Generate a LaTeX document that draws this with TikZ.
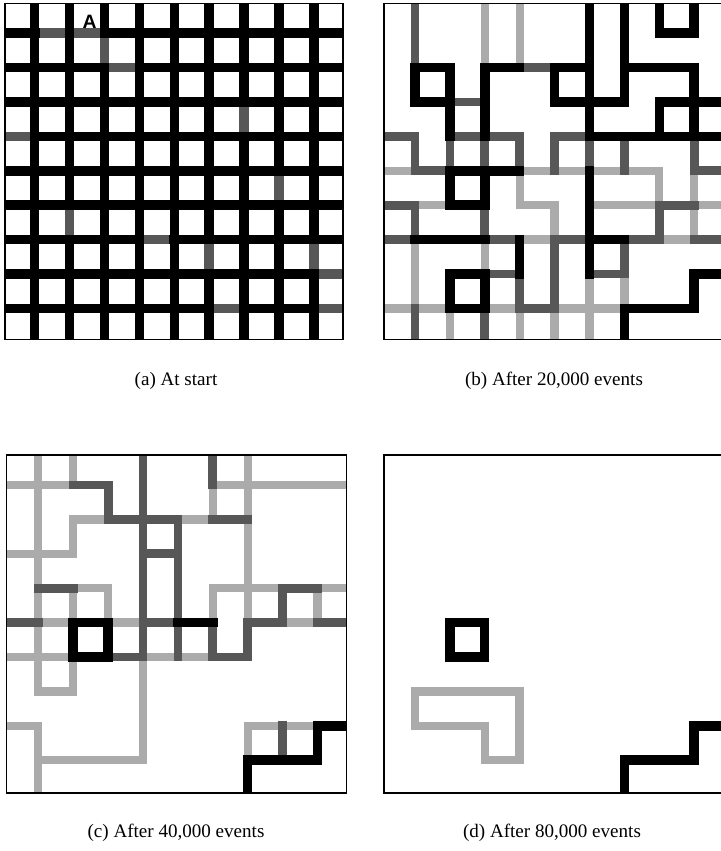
\documentclass[tikz,border=0pt]{standalone}
\usepackage{fontspec}
\setmainfont{Liberation Serif}
\newfontfamily\labelsans{Liberation Sans}
\newcommand\HB[2]{\foreach \j/\k in {#2} {\draw[#1] (\k,\j) -- ++(1,0);}}
\newcommand\VB[2]{\foreach \k/\j in {#2} {\draw[#1] (\k,\j) -- ++(0,1);}}
\begin{document}
\begin{tikzpicture}[x=0.75pt,y=-0.75pt]
\tikzset{
  blk/.style={line width=7.1pt, line cap=rect, black},
  drk/.style={line width=6.6pt, line cap=rect, black!66},
  lgt/.style={line width=6.2pt, line cap=rect, black!33},
  frame/.style={draw=black, line width=0.9pt},
  lattice/.style={x=26.175pt, y=-25.8pt},
  caption/.style={font=\fontsize{14.3}{17}\selectfont, inner sep=0pt}
}
\useasboundingbox (0,0) rectangle (721,851);
\clip (0,0) rectangle (721,851);

% ---------------- (a) At start ----------------
\begin{scope}
  \clip (5,3.5) rectangle (343,339.5);
  \begin{scope}[shift={(-0.2,-1.2)}, lattice]
    \foreach \i in {1,...,9} {
      \draw[blk, line cap=butt] (\i,-1) -- (\i,11);
      \draw[blk, line cap=butt] (-1,\i) -- (11,\i);
    }
    \foreach \j/\k in {1/1,1/2,2/3,4/0,7/4,8/9,9/6,9/9}
      {\draw[line width=7.1pt, black!66] (\k+0.14,\j) -- (\k+0.86,\j);}
    \foreach \k/\j in {3/1,7/3,8/5,2/6,6/7,9/7}
      {\draw[line width=7.1pt, black!66] (\k,\j+0.14) -- (\k,\j+0.86);}
  \end{scope}
\end{scope}
\draw[frame] (5,3.5) rectangle (343,339.5);
\draw[line width=0.5pt] (68.3,13.3) circle[radius=1.2pt];
\node[font=\labelsans\bfseries\fontsize{14.5}{14.5}\selectfont, inner sep=0pt] (labA) at (89.5,21.5) {A};
\node[caption] (capa) at (176,381) {(a) At start};

% ---------------- (b) After 20,000 events ----------------
\begin{scope}
  \clip (384,3.5) rectangle (725,339.5);
  \begin{scope}[shift={(380.1,-1.2)}, lattice]
    \VB{lgt}{1/7,1/8,2/9,3/0,3/1,3/7,4/0,4/1,4/5,4/9,5/6,5/9,6/8,6/9,7/8,8/5,9/5,9/6}
    \HB{lgt}{5/0,5/4,5/5,5/6,5/7,6/1,6/4,6/6,6/7,6/9,7/4,7/8,9/0,9/1,9/3,9/5,9/6}
    \VB{drk}{1/0,1/1,1/4,1/6,1/9,2/4,3/4,3/6,3/9,4/4,4/8,5/4,5/7,5/8,6/4,7/4,7/7,8/6,9/4}
    \HB{drk}{2/4,3/2,4/0,4/2,4/3,4/5,5/1,5/9,6/0,6/8,7/0,7/3,7/5,7/7,7/9,8/3,8/6,9/4}
    \VB{blk}{1/2,2/2,2/3,2/5,2/8,3/2,3/3,3/5,3/8,4/7,5/2,6/0,6/1,6/2,6/3,6/5,6/6,6/7,7/0,7/1,7/2,7/9,8/0,8/3,9/0,9/2,9/3,9/8}
    \HB{blk}{1/8,2/1,2/3,2/5,2/7,2/8,3/1,3/5,3/6,3/8,3/9,4/6,4/7,4/8,4/9,5/2,5/3,6/2,7/1,7/2,7/6,8/2,8/9,9/2,9/7,9/8}
  \end{scope}
\end{scope}
\draw[frame] (384,3.5) rectangle (725,339.5);
\node[caption] (capb) at (554,381) {(b) After 20,000 events};

% ---------------- (c) After 40,000 events ----------------
\begin{scope}
  \clip (6.7,455) rectangle (346.7,793);
  \begin{scope}[shift={(3.4,450.6)}, lattice]
    \VB{lgt}{1/0,1/1,1/2,1/3,1/4,1/5,1/6,1/8,1/9,2/0,2/2,2/4,2/6,3/4,4/6,4/7,4/8,6/1,6/4,7/0,7/1,7/2,7/3,7/4,7/8,9/4}
    \HB{lgt}{1/0,1/1,1/6,1/7,1/8,1/9,2/2,2/5,3/0,3/1,4/2,4/6,4/7,4/9,5/1,5/3,5/8,6/0,6/1,6/4,6/5,7/1,8/0,8/7,8/8,9/1,9/2,9/3}
    \VB{drk}{3/1,4/0,4/1,4/2,4/3,4/4,4/5,5/2,5/3,5/4,5/5,6/0,6/5,7/5,8/4,8/8}
    \HB{drk}{1/2,2/3,2/4,2/6,3/4,4/1,4/8,5/0,5/4,5/7,5/9,6/3,6/6}
    \VB{blk}{2/5,3/5,7/9,9/8}
    \HB{blk}{5/2,5/5,6/2,8/9,9/7,9/8}
  \end{scope}
\end{scope}
\draw[frame] (6.7,455) rectangle (346.7,793);
\node[caption] (capc) at (176,833) {(c) After 40,000 events};

% ---------------- (d) After 80,000 events ----------------
\begin{scope}
  \clip (384,455) rectangle (725,793);
  \begin{scope}[shift={(380,450.6)}, lattice]
    \VB{lgt}{1/7,3/8,4/7,4/8}
    \HB{lgt}{7/1,7/2,7/3,8/1,8/2,9/3}
    \VB{blk}{2/5,3/5,7/9,9/8}
    \HB{blk}{5/2,6/2,8/9,9/7,9/8}
  \end{scope}
\end{scope}
\draw[frame] (384,455) rectangle (725,793);
\node[caption] (capd) at (552,833) {(d) After 80,000 events};
\end{tikzpicture}
\end{document}
